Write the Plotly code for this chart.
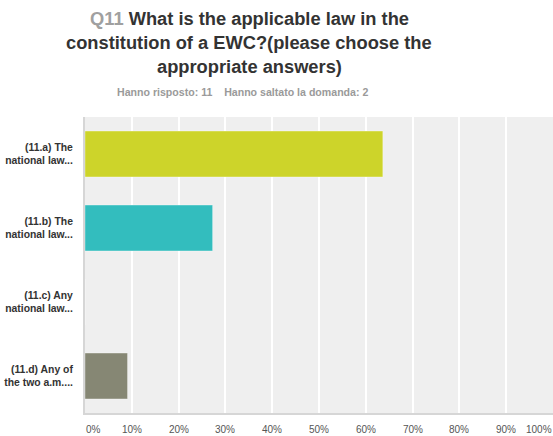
import plotly.graph_objects as go

# Survey question Q11: share of respondents per answer
categories = [
    "(11.a) The<br>national law...",
    "(11.b) The<br>national law...",
    "(11.c) Any<br>national law...",
    "(11.d) Any of<br>the two a.m....",
]
percent = [63.64, 27.27, 0.0, 9.09]
bar_colors = ["#CDD42A", "#33BDBE", "#9FCE6A", "#868774"]
tick_values = [0, 10, 20, 30, 40, 50, 60, 70, 80, 90, 100]
tick_labels = ["0%", "10%", "20%", "30%", "40%", "50%", "60%", "70%", "80%", "90%", "100%"]

title_lines = [
    "<span style='color:#A0A0A0'>Q11</span> What is the applicable law in the",
    "constitution of a EWC?(please choose the",
    "appropriate answers)",
]
subtitle = "Hanno risposto: 11&nbsp;&nbsp;&nbsp;&nbsp;Hanno saltato la domanda: 2"

FONT = "Liberation Sans, Arial, Helvetica, sans-serif"
W, H = 553, 436
ML, MR, MT, MB = 85, 0, 117, 23
pw = W - ML - MR
ph = H - MT - MB

fig = go.Figure(
    go.Bar(
        y=categories,
        x=percent,
        orientation="h",
        marker=dict(color=bar_colors, line=dict(color="rgba(255,255,255,0.35)", width=1)),
        width=0.62,
        hoverinfo="skip",
    )
)

annotations = []
# Title lines, centred slightly left of the page middle
title_cx = (249 - ML) / pw
for i, line in enumerate(title_lines):
    annotations.append(dict(
        text=line, xref="paper", yref="paper", x=title_cx, y=1,
        yshift=(MT - 18) - 24 * i, xanchor="center", yanchor="middle",
        showarrow=False,
        font=dict(family=FONT, size=18.3, color="#333333", weight="bold"),
    ))
annotations.append(dict(
    text=subtitle, xref="paper", yref="paper", x=(242 - ML) / pw, y=1,
    yshift=MT - 92, xanchor="center", yanchor="middle", showarrow=False,
    font=dict(family=FONT, size=10.6, color="#9A9A9A", weight="bold"),
))
# Percentage tick labels along the bottom
for v, t in zip(tick_values, tick_labels):
    anchor = "left" if v == tick_values[0] else ("right" if v == tick_values[-1] else "center")
    annotations.append(dict(
        text=t, xref="x", yref="paper", x=v, y=0, yshift=-16,
        xanchor=anchor, yanchor="middle", showarrow=False, borderpad=0,
        font=dict(family=FONT, size=10, color="#555555"),
    ))

fig.update_layout(
    width=W, height=H,
    margin=dict(l=ML, r=MR, t=MT, b=MB, pad=0),
    paper_bgcolor="white",
    plot_bgcolor="#EFEFEF",
    showlegend=False,
    bargap=0.38,
    annotations=annotations,
    xaxis=dict(
        range=[0, 100], tickvals=tick_values, showticklabels=False,
        showgrid=True, gridcolor="white", gridwidth=1.5, zeroline=False,
        showline=True, linecolor="#D6D6D6", linewidth=2, ticks="", fixedrange=True,
    ),
    yaxis=dict(
        autorange="reversed", showgrid=False, zeroline=False,
        showline=True, linecolor="#D6D6D6", linewidth=2, ticks="", ticklabelstandoff=8,
        tickfont=dict(family=FONT, size=10.4, color="#333333", weight="bold"),
    ),
)

fig.write_html("out.html")
